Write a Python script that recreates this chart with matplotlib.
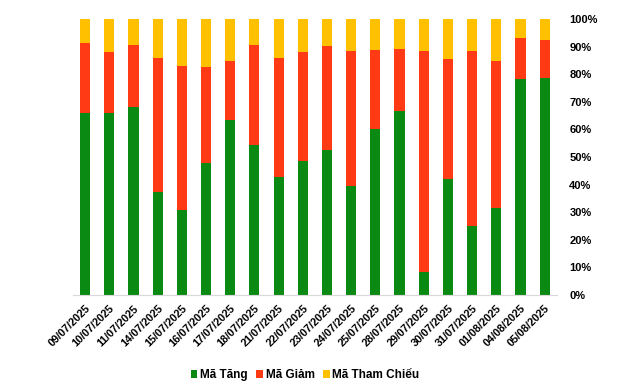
import numpy as np
import matplotlib
matplotlib.use("Agg")
import matplotlib.pyplot as plt
from matplotlib.ticker import PercentFormatter

dates = ["09/07/2025", "10/07/2025", "11/07/2025", "14/07/2025", "15/07/2025",
         "16/07/2025", "17/07/2025", "18/07/2025", "21/07/2025", "22/07/2025",
         "23/07/2025", "24/07/2025", "25/07/2025", "28/07/2025", "29/07/2025",
         "30/07/2025", "31/07/2025", "01/08/2025", "04/08/2025", "05/08/2025"]

# share of tickers (%)
tang = [65.9, 65.9, 68.1, 37.4, 30.9, 47.8, 63.5, 54.3, 42.8, 48.6,
        52.5, 39.6, 60.1, 66.7, 8.3, 42.0, 25.0, 31.5, 78.3, 78.7]
giam_top = [91.3, 88.0, 90.6, 85.9, 83.0, 82.6, 84.8, 90.6, 85.9, 88.0,
            90.2, 88.4, 88.8, 89.1, 88.4, 85.5, 88.4, 84.8, 93.1, 92.4]
giam = [t - g for t, g in zip(giam_top, tang)]
tham_chieu = [100 - t for t in giam_top]

plt.rcParams['font.family'] = ['Liberation Sans', 'DejaVu Sans']

fig = plt.figure(figsize=(6.4, 3.84), dpi=100)
ax = fig.add_axes([0.114, 0.232, 0.756, 0.718])

x = np.arange(len(dates))
w = 0.42
ax.bar(x, tang, w, color='#0A8A12', label='Mã Tăng')
ax.bar(x, giam, w, bottom=tang, color='#FF3A14', label='Mã Giảm')
ax.bar(x, tham_chieu, w, bottom=giam_top, color='#FFC000', label='Mã Tham Chiếu')

ax.set_xlim(-0.5, len(dates) - 0.5)
ax.set_ylim(0, 100)
ax.yaxis.tick_right()
ax.set_yticks(np.arange(0, 101, 10))
ax.yaxis.set_major_formatter(PercentFormatter(decimals=0))
ax.tick_params(axis='y', length=0, labelsize=8, pad=9)
for lab in ax.get_yticklabels():
    lab.set_fontweight('bold')

ax.set_xticks(x)
ax.set_xticklabels(dates, rotation=45, ha='right', rotation_mode='anchor',
                   fontsize=7.8, fontweight='bold')
ax.tick_params(axis='x', length=0, pad=6)

for s in ['top', 'left', 'right']:
    ax.spines[s].set_visible(False)
ax.spines['bottom'].set_color('#D9D9D9')

leg = fig.legend(loc='center', bbox_to_anchor=(0.477, 0.023), ncol=3, frameon=False,
                 handlelength=0.55, handleheight=0.55, handletextpad=0.25,
                 columnspacing=0.7, prop={'size': 8.5, 'weight': 'bold'})

fig.savefig('out.png', dpi=100)
